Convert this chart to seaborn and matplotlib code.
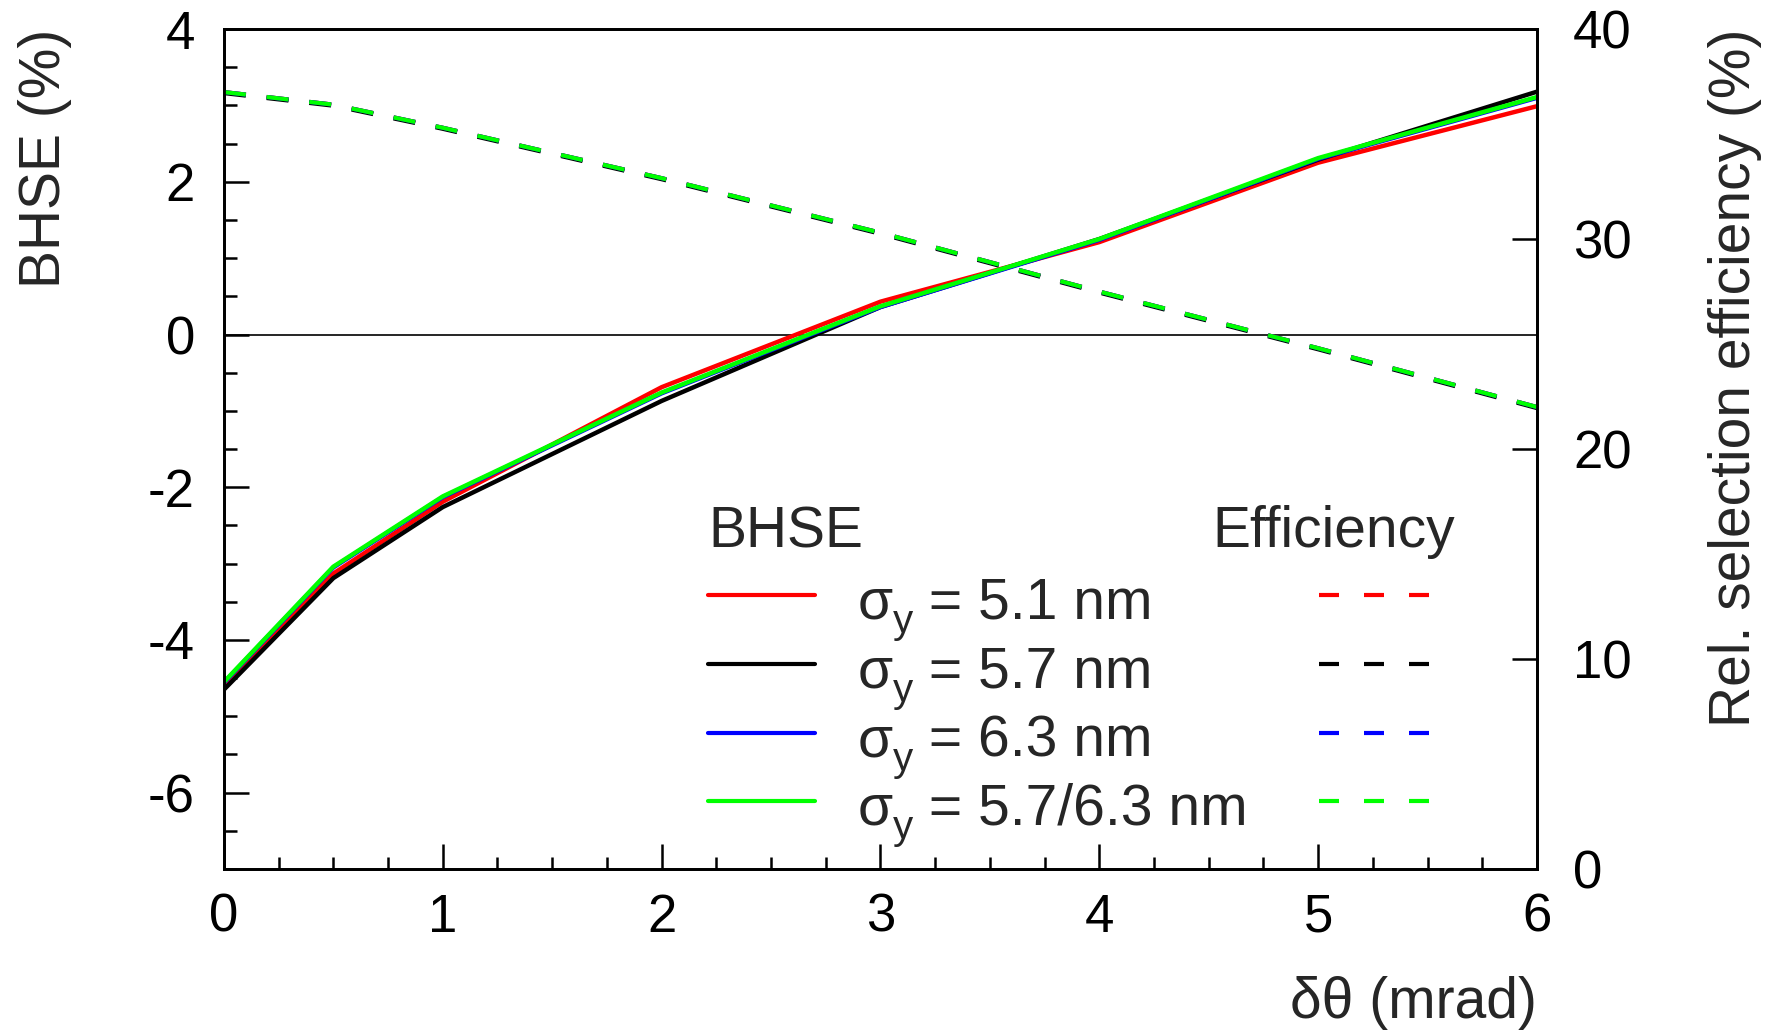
import matplotlib
matplotlib.use("Agg")
import matplotlib.pyplot as plt
from matplotlib.lines import Line2D
from matplotlib.ticker import MultipleLocator
import pandas as pd
import seaborn as sns

# --- data ---
dtheta = [0, 0.5, 1, 2, 3, 4, 5, 6]

bhse_51 = [-4.60, -3.13, -2.19, -0.69, 0.43, 1.21, 2.25, 2.99]
bhse_57 = [-4.65, -3.19, -2.26, -0.87, 0.36, 1.25, 2.29, 3.18]
bhse_63 = [-4.56, -3.05, -2.13, -0.77, 0.36, 1.24, 2.30, 3.10]
bhse_5763 = [-4.55, -3.04, -2.12, -0.76, 0.37, 1.25, 2.31, 3.11]

eff_51 = [37.0, 36.4, 35.3, 32.9, 30.3, 27.5, 24.8, 22.0]
eff_57 = [36.95, 36.35, 35.25, 32.85, 30.25, 27.45, 24.75, 21.95]
eff_63 = [37.0, 36.4, 35.3, 32.9, 30.3, 27.5, 24.8, 22.0]
eff_5763 = [37.0, 36.4, 35.3, 32.9, 30.3, 27.5, 24.8, 22.0]

sigma_labels = ["5.1", "5.7", "6.3", "5.7/6.3"]
colors = ["#ff0000", "#000000", "#0000ff", "#00ff00"]

bhse_all = [bhse_51, bhse_57, bhse_63, bhse_5763]
eff_all = [eff_51, eff_57, eff_63, eff_5763]

# --- style ---
sns.set_theme(style="ticks")
plt.rcParams["font.family"] = ["Liberation Sans", "DejaVu Sans"]
plt.rcParams["axes.unicode_minus"] = False

fig = plt.figure(figsize=(17.76, 10.31), dpi=100)
ax = fig.add_axes([0.1261, 0.1571, 0.7393, 0.8147])
ax2 = ax.twinx()

ax.axhline(0, color="black", lw=1.2, zorder=1)

for vals, c in zip(bhse_all, colors):
    df = pd.DataFrame({"x": dtheta, "y": vals})
    sns.lineplot(data=df, x="x", y="y", color=c, lw=3.2, ax=ax, sort=False)

for vals, c in zip(eff_all, colors):
    df = pd.DataFrame({"x": dtheta, "y": vals})
    sns.lineplot(data=df, x="x", y="y", color=c, lw=3.0, ax=ax2, sort=False,
                 linestyle=(0, (5.3, 5.0)))

# axes ranges / ticks (ROOT look)
ax.set_xlim(0, 6)
ax.set_ylim(-7, 4)
ax2.set_ylim(0, 40)

ax.xaxis.set_major_locator(MultipleLocator(1))
ax.xaxis.set_minor_locator(MultipleLocator(0.25))
ax.yaxis.set_major_locator(MultipleLocator(2))
ax.yaxis.set_minor_locator(MultipleLocator(0.5))
ax2.yaxis.set_major_locator(MultipleLocator(10))

ax.tick_params(axis="both", which="both", direction="in", color="black",
               labelcolor="black", width=1.8, top=False, right=False)
ax.tick_params(axis="both", which="major", length=18)
ax.tick_params(axis="both", which="minor", length=9)
ax.tick_params(axis="x", which="major", labelsize=38, pad=17)
ax.tick_params(axis="y", which="major", labelsize=38, pad=21)
ax2.tick_params(axis="y", which="major", direction="in", length=18, width=1.8,
                labelsize=38, pad=26, color="black", labelcolor="black")
ax2.tick_params(axis="y", which="minor", right=False)

for a in (ax, ax2):
    for s in a.spines.values():
        s.set_linewidth(2.0)
        s.set_color("black")
        s.set_visible(True)

ax.set_xlabel("δθ (mrad)", fontsize=41, loc="right")
ax.xaxis.set_label_coords(1.0, -0.127)
ax.set_ylabel("BHSE (%)", fontsize=41, loc="top")
ax.yaxis.set_label_coords(-0.116, 1.0)
ax2.set_ylabel("Rel. selection efficiency (%)", fontsize=41, loc="top")
ax2.yaxis.set_label_coords(1.130, 1.0)

# --- legend (two columns: solid = BHSE, dashed = efficiency) ---
leg_rows = [0.3262, 0.2440, 0.1619, 0.0810]
ax2.text(0.3686, 0.3833, "BHSE", transform=ax2.transAxes, fontsize=41,
         ha="left", va="baseline")
ax2.text(0.7525, 0.3833, "Efficiency", transform=ax2.transAxes, fontsize=41,
         ha="left", va="baseline")
for yy, lab, c in zip(leg_rows, sigma_labels, colors):
    ax2.add_line(Line2D([0.3686, 0.4501], [yy, yy], transform=ax2.transAxes,
                        color=c, lw=3.0))
    ax2.add_line(Line2D([0.834, 0.918], [yy, yy], transform=ax2.transAxes,
                        color=c, lw=3.0, linestyle=(0, (4.8, 6.0))))
    base = yy - 0.0274
    t_sig = ax2.text(0.4829, base, "σ", transform=ax2.transAxes, fontsize=41,
                     ha="left", va="baseline")
    t_sub = ax2.annotate("y", xy=(1, base), xycoords=(t_sig, ax2.transAxes),
                         xytext=(0, -10.8), textcoords="offset points",
                         fontsize=29, ha="left", va="baseline")
    ax2.annotate(" = " + lab + " nm", xy=(1, base),
                 xycoords=(t_sub, ax2.transAxes), xytext=(0, 0),
                 textcoords="offset points", fontsize=41, ha="left",
                 va="baseline")

fig.savefig("out.png", dpi=100)
